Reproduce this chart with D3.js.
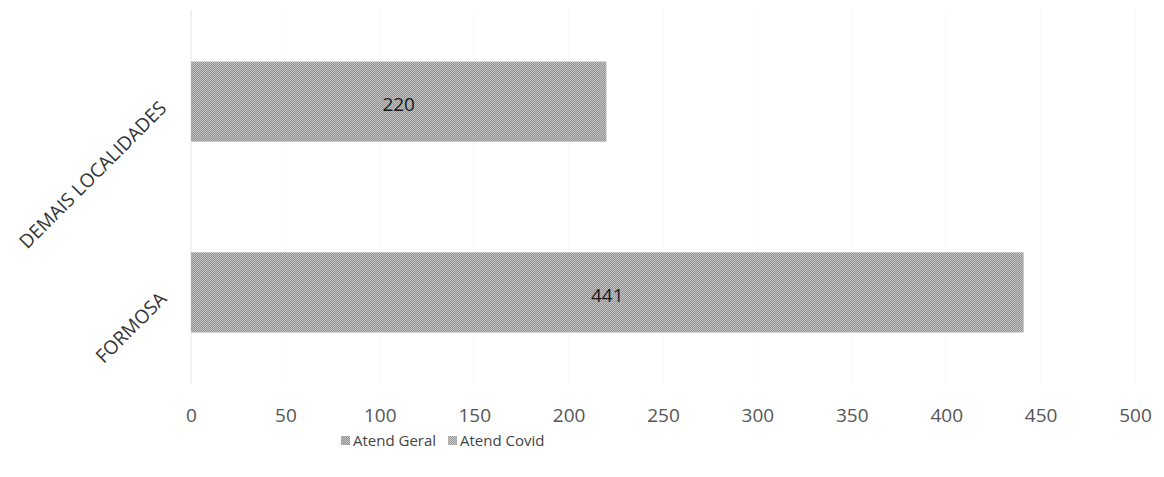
<!DOCTYPE html>
<html>
<head>
<meta charset="utf-8">
<script src="https://cdn.jsdelivr.net/npm/d3@7"></script>
<style>
  html, body { margin: 0; padding: 0; background: #fff; }
  svg { display: block; }
  text { font-family: "Open Sans", "DejaVu Sans", sans-serif; }
</style>
</head>
<body>
<svg id="chart" width="1164" height="477"></svg>
<script>
const categories = ["DEMAIS LOCALIDADES", "FORMOSA"];
const seriesNames = ["Atend Geral", "Atend Covid"];
const atendGeral = [220, 441];
const atendCovid = [0, 0];
const xTicks = [0, 50, 100, 150, 200, 250, 300, 350, 400, 450, 500];

const svg = d3.select("#chart");
const plot = { left: 191, right: 1135, top: 10, bottom: 384 };

const defs = svg.append("defs");
function makePattern(id, c1, c2) {
  const p = defs.append("pattern").attr("id", id)
    .attr("width", 2).attr("height", 2).attr("patternUnits", "userSpaceOnUse");
  p.append("rect").attr("width", 2).attr("height", 2).attr("fill", c1);
  p.append("rect").attr("width", 1).attr("height", 1).attr("fill", c2);
  p.append("rect").attr("x", 1).attr("y", 1).attr("width", 1).attr("height", 1).attr("fill", c2);
}
makePattern("patGeral", "#939393", "#c2c2c2");
makePattern("patCovid", "#9c9c9c", "#c8c8c8");
const fills = ["url(#patGeral)", "url(#patCovid)"];

const x = d3.scaleLinear().domain([0, 500]).range([plot.left, plot.right]);
const y = d3.scaleBand().domain(categories).range([plot.top, plot.bottom]).paddingInner(0.58).paddingOuter(0.27);

// gridlines
svg.append("g").selectAll("line").data(xTicks).join("line")
  .attr("x1", d => x(d)).attr("x2", d => x(d))
  .attr("y1", plot.top).attr("y2", plot.bottom)
  .attr("stroke", d => d === 0 ? "#e4e4e4" : "#f7f7f7").attr("stroke-width", 1);

// stacked bars
const rows = categories.map((c, i) => ({ cat: c, values: [atendGeral[i], atendCovid[i]] }));
rows.forEach(r => {
  let acc = 0;
  r.values.forEach((v, si) => {
    if (v > 0) {
      svg.append("rect")
        .attr("x", x(acc)).attr("y", y(r.cat))
        .attr("width", x(acc + v) - x(acc)).attr("height", y.bandwidth())
        .attr("fill", fills[si]);
    }
    acc += v;
  });
  svg.append("text")
    .attr("x", (x(0) + x(r.values[0])) / 2)
    .attr("y", y(r.cat) + y.bandwidth() / 2 + 3)
    .attr("dy", "0.35em").attr("text-anchor", "middle")
    .attr("font-size", 19).attr("fill", "#1a1a1a")
    .text(r.values[0]);
});

// x axis
const xAxis = d3.axisBottom(x).tickValues(xTicks).tickSize(0).tickPadding(0);
const gx = svg.append("g").attr("transform", `translate(0, ${plot.bottom + 31})`).call(xAxis);
gx.select(".domain").remove();
gx.selectAll("text").attr("font-size", 19).attr("fill", "#555").attr("dy", "0.35em")
  .attr("font-family", "'Open Sans', sans-serif");

// y axis (rotated labels)
const yAxis = d3.axisLeft(y).tickSize(0).tickPadding(0);
const gy = svg.append("g").attr("transform", `translate(${plot.left - 28}, 3)`).call(yAxis);
gy.select(".domain").remove();
gy.selectAll("text").attr("font-size", 19).attr("fill", "#333")
  .attr("text-anchor", "end").attr("dy", "0.35em")
  .attr("font-family", "'Open Sans', sans-serif")
  .attr("transform", "rotate(-45)");

// legend
const legend = svg.append("g").attr("transform", "translate(341, 441)");
const legX = [0, 107];
seriesNames.forEach((s, i) => {
  const g = legend.append("g").attr("transform", `translate(${legX[i]},0)`);
  g.append("rect").attr("x", 0).attr("y", -5).attr("width", 9).attr("height", 9).attr("fill", fills[i]);
  g.append("text").attr("x", 12).attr("y", 0).attr("dy", "0.35em")
    .attr("font-size", 15).attr("fill", "#444").text(s);
});
</script>
</body>
</html>
